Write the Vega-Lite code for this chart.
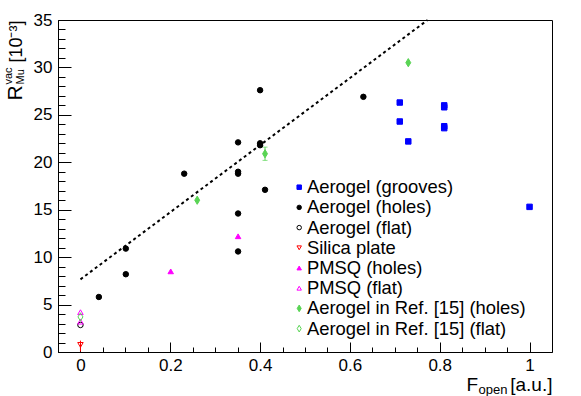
{
  "$schema": "https://vega.github.io/schema/vega-lite/v6.json",
  "width": 494,
  "height": 332,
  "autosize": {"type": "none"},
  "padding": {"left": 58, "top": 20, "right": 29, "bottom": 44},
  "background": "white",
  "datasets": {
    "points": [
      {"series": "Aerogel (grooves)", "x": 0.711, "y": 26.3},
      {"series": "Aerogel (grooves)", "x": 0.711, "y": 24.3},
      {"series": "Aerogel (grooves)", "x": 0.73, "y": 22.2},
      {"series": "Aerogel (grooves)", "x": 0.81, "y": 26.0},
      {"series": "Aerogel (grooves)", "x": 0.81, "y": 25.8},
      {"series": "Aerogel (grooves)", "x": 0.81, "y": 23.8},
      {"series": "Aerogel (grooves)", "x": 0.81, "y": 23.6},
      {"series": "Aerogel (grooves)", "x": 1.0, "y": 15.3},
      {"series": "Aerogel (holes)", "x": 0.041, "y": 5.8},
      {"series": "Aerogel (holes)", "x": 0.101, "y": 8.2},
      {"series": "Aerogel (holes)", "x": 0.101, "y": 10.9},
      {"series": "Aerogel (holes)", "x": 0.231, "y": 18.8},
      {"series": "Aerogel (holes)", "x": 0.351, "y": 22.1},
      {"series": "Aerogel (holes)", "x": 0.351, "y": 19.0},
      {"series": "Aerogel (holes)", "x": 0.351, "y": 18.8},
      {"series": "Aerogel (holes)", "x": 0.351, "y": 14.6},
      {"series": "Aerogel (holes)", "x": 0.351, "y": 10.6},
      {"series": "Aerogel (holes)", "x": 0.40, "y": 27.6},
      {"series": "Aerogel (holes)", "x": 0.40, "y": 22.0},
      {"series": "Aerogel (holes)", "x": 0.40, "y": 21.8},
      {"series": "Aerogel (holes)", "x": 0.411, "y": 17.1},
      {"series": "Aerogel (holes)", "x": 0.63, "y": 26.9},
      {"series": "Aerogel (flat)", "x": 0.0, "y": 2.85},
      {"series": "Silica plate", "x": 0.0, "y": 0.75},
      {"series": "PMSQ (holes)", "x": 0.201, "y": 8.5},
      {"series": "PMSQ (holes)", "x": 0.351, "y": 12.2},
      {"series": "PMSQ (flat)", "x": 0.0, "y": 4.2},
      {"series": "PMSQ (flat)", "x": 0.0, "y": 3.2},
      {"series": "Aerogel in Ref. [15] (holes)", "x": 0.26, "y": 16.0},
      {"series": "Aerogel in Ref. [15] (holes)", "x": 0.411, "y": 20.9},
      {"series": "Aerogel in Ref. [15] (holes)", "x": 0.73, "y": 30.5},
      {"series": "Aerogel in Ref. [15] (flat)", "x": 0.0, "y": 3.7}
    ],
    "errors": [
      {"series": "Silica plate", "x": 0.0, "lo": 0.05, "hi": 1.2},
      {"series": "Aerogel in Ref. [15] (holes)", "x": 0.411, "lo": 20.2, "hi": 21.6}
    ],
    "fit": [
      {"x": 0.0, "y": 7.66},
      {"x": 0.773, "y": 35.0}
    ]
  },
  "layer": [
    {
      "data": {"name": "fit"},
      "mark": {"type": "line", "color": "black", "strokeWidth": 2, "strokeDash": [3, 3]},
      "encoding": {
        "x": {
          "field": "x", "type": "quantitative",
          "scale": {"domain": [-0.05, 1.05], "nice": false, "zero": false},
          "axis": {
            "orient": "bottom", "values": [-0.05, 0, 0.05, 0.1, 0.15, 0.2, 0.25, 0.3, 0.35, 0.4, 0.45, 0.5, 0.55, 0.6, 0.65, 0.7, 0.75, 0.8, 0.85, 0.9, 0.95, 1.0, 1.05],
            "tickSize": -5, "labels": false, "domain": false, "grid": false,
            "title": "F", "titleFontSize": 19, "titleAlign": "left", "titleBaseline": "alphabetic",
            "titleAngle": 0, "titleX": 408, "titleY": 38
          }
        },
        "y": {
          "field": "y", "type": "quantitative",
          "scale": {"domain": [0, 35], "nice": false, "zero": false},
          "axis": {
            "orient": "left", "values": [0,1,2,3,4,5,6,7,8,9,10,11,12,13,14,15,16,17,18,19,20,21,22,23,24,25,26,27,28,29,30,31,32,33,34,35],
            "tickSize": -7, "labels": false, "domain": false, "grid": false,
            "title": "R", "titleFontSize": 21, "titleAngle": -90, "titleAlign": "left", "titleBaseline": "alphabetic",
            "titleX": -37, "titleY": 80
          }
        }
      }
    },
    {
      "data": {"name": "errors"},
      "transform": [{"filter": {"field": "series", "equal": "Silica plate"}}],
      "mark": {"type": "rule", "strokeWidth": 1, "color": "#ff0000"},
      "encoding": {
        "x": {
          "field": "x", "type": "quantitative",
          "scale": {"domain": [-0.05, 1.05], "nice": false, "zero": false},
          "axis": {
            "orient": "bottom", "ticks": false, "labels": false, "domain": false, "grid": false,
            "title": "open", "titleFontSize": 13, "titleAlign": "left", "titleBaseline": "alphabetic",
            "titleAngle": 0, "titleX": 420, "titleY": 41
          }
        },
        "y": {
          "field": "lo", "type": "quantitative",
          "scale": {"domain": [0, 35], "nice": false, "zero": false},
          "axis": {
            "orient": "left", "ticks": false, "labels": false, "domain": false, "grid": false,
            "title": "vac", "titleFontSize": 11, "titleAngle": -90, "titleAlign": "left", "titleBaseline": "alphabetic",
            "titleX": -47, "titleY": 64
          }
        },
        "y2": {"field": "hi"}
      }
    },
    {
      "data": {"name": "errors"},
      "transform": [{"filter": {"field": "series", "equal": "Aerogel in Ref. [15] (holes)"}}],
      "mark": {"type": "rule", "strokeWidth": 1, "color": "#59d454"},
      "encoding": {
        "x": {
          "field": "x", "type": "quantitative",
          "scale": {"domain": [-0.05, 1.05], "nice": false, "zero": false},
          "axis": null
        },
        "y": {
          "field": "lo", "type": "quantitative",
          "scale": {"domain": [0, 35], "nice": false, "zero": false},
          "axis": {
            "orient": "left", "ticks": false, "labels": false, "domain": false, "grid": false,
            "title": "Mu", "titleFontSize": 11, "titleAngle": -90, "titleAlign": "left", "titleBaseline": "alphabetic",
            "titleX": -35, "titleY": 64
          }
        },
        "y2": {"field": "hi"}
      }
    },
    {
      "data": {"name": "errors"},
      "transform": [
        {"filter": {"field": "series", "equal": "Aerogel in Ref. [15] (holes)"}},
        {"fold": ["lo", "hi"], "as": ["end", "val"]}
      ],
      "mark": {"type": "tick", "orient": "horizontal", "size": 5, "thickness": 1, "color": "#59d454"},
      "encoding": {
        "x": {
          "field": "x", "type": "quantitative",
          "scale": {"domain": [-0.05, 1.05], "nice": false, "zero": false},
          "axis": null
        },
        "y": {
          "field": "val", "type": "quantitative",
          "scale": {"domain": [0, 35], "nice": false, "zero": false},
          "axis": null
        }
      }
    },
    {
      "data": {"name": "points"},
      "mark": {"type": "point", "filled": true, "size": 30, "strokeWidth": 1, "opacity": 1},
      "encoding": {
        "x": {
          "field": "x", "type": "quantitative",
          "scale": {"domain": [-0.05, 1.05], "nice": false, "zero": false},
          "axis": {
            "orient": "bottom", "values": [0, 0.2, 0.4, 0.6, 0.8, 1.0], "format": "~g",
            "tickSize": -10, "labelPadding": 15, "labelFontSize": 17, "labelFlush": false, "labelOverlap": false,
            "domain": false, "grid": false,
            "title": "[a.u.]", "titleFontSize": 19, "titleAlign": "right", "titleBaseline": "alphabetic",
            "titleAngle": 0, "titleX": 494, "titleY": 38
          }
        },
        "y": {
          "field": "y", "type": "quantitative",
          "scale": {"domain": [0, 35], "nice": false, "zero": false},
          "axis": {
            "orient": "left", "values": [0, 5, 10, 15, 20, 25, 30, 35],
            "tickSize": -13, "labelPadding": 19, "labelFontSize": 17, "labelFlush": false, "labelOverlap": false,
            "domain": false, "grid": false,
            "title": "[10⁻³]", "titleFontSize": 18, "titleAngle": -90, "titleAlign": "right", "titleBaseline": "alphabetic",
            "titleX": -37, "titleY": 0
          }
        },
        "fill": {
          "field": "series", "type": "nominal",
          "scale": {
            "domain": ["Aerogel (grooves)", "Aerogel (holes)", "Aerogel (flat)", "Silica plate", "PMSQ (holes)", "PMSQ (flat)", "Aerogel in Ref. [15] (holes)", "Aerogel in Ref. [15] (flat)"],
            "range": ["#0000ff", "#000000", "transparent", "transparent", "#ff00ff", "transparent", "#59d454", "transparent"]
          },
          "legend": {"title": null, "orient": "none", "legendX": 232, "legendY": 158}
        },
        "stroke": {
          "field": "series", "type": "nominal",
          "scale": {
            "domain": ["Aerogel (grooves)", "Aerogel (holes)", "Aerogel (flat)", "Silica plate", "PMSQ (holes)", "PMSQ (flat)", "Aerogel in Ref. [15] (holes)", "Aerogel in Ref. [15] (flat)"],
            "range": ["#0000ff", "#000000", "#000000", "#ff0000", "#ff00ff", "#ff00ff", "#59d454", "#59d454"]
          },
          "legend": {"title": null, "orient": "none", "legendX": 232, "legendY": 158}
        },
        "shape": {
          "field": "series", "type": "nominal",
          "scale": {
            "domain": ["Aerogel (grooves)", "Aerogel (holes)", "Aerogel (flat)", "Silica plate", "PMSQ (holes)", "PMSQ (flat)", "Aerogel in Ref. [15] (holes)", "Aerogel in Ref. [15] (flat)"],
            "range": ["square", "circle", "circle", "triangle-down", "triangle-up", "triangle-up", "M0,-1.5L0.9,0L0,1.5L-0.9,0Z", "M0,-1.5L0.9,0L0,1.5L-0.9,0Z"]
          },
          "legend": {"title": null, "orient": "none", "legendX": 232, "legendY": 158}
        }
      }
    }
  ],
  "resolve": {"axis": {"x": "independent", "y": "independent"}},
  "config": {
    "font": "Liberation Sans",
    "view": {"stroke": "black", "strokeWidth": 1},
    "axis": {
      "tickColor": "black", "tickWidth": 1, "labelColor": "black", "titleColor": "black",
      "titleFontWeight": "normal", "titleFont": "Liberation Sans", "labelFont": "Liberation Sans", "titlePadding": 0
    },
    "legend": {
      "labelFont": "Liberation Sans", "labelFontSize": 18.4, "labelColor": "black", "labelLimit": 400,
      "symbolSize": 20, "symbolStrokeWidth": 1, "rowPadding": 1.2, "padding": 0, "labelOffset": -1.5
    }
  }
}
